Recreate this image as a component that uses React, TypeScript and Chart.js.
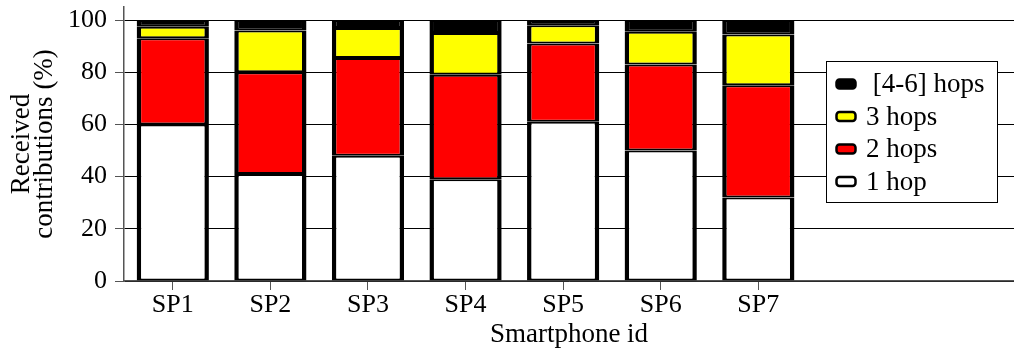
import React, { useEffect, useRef } from 'react';
import { Chart, registerables } from 'chart.js';

Chart.register(...registerables);

const categories = ['SP1', 'SP2', 'SP3', 'SP4', 'SP5', 'SP6', 'SP7'];
const hop1 = [60, 41, 48, 39, 61, 50, 32];
const hop2 = [33, 39, 37.5, 40, 30, 33, 43];
const hop3 = [4.4, 16, 11.5, 16, 7, 12.5, 19.5];
const hop46 = [2.6, 4, 3, 5, 2, 4.5, 5.5];
const yTicks = [0, 20, 40, 60, 80, 100];
const seriesLabels = ['1 hop', '2 hops', '3 hops', ' [4-6] hops'];
const seriesColors = ['#ffffff', '#ff0000', '#ffff00', '#000000'];
const xTitle = 'Smartphone id';
const yTitle = ['Received', 'contributions (%)'];

const FONT = "'Liberation Serif', 'Times New Roman', serif";

const boxLegend = {
  id: 'boxLegend',
  afterDatasetsDraw(chart: any, _args: any, opts: any) {
    const ctx = chart.ctx;
    const { x, y, w, h, rowStart, rowGap } = opts;
    ctx.save();
    ctx.fillStyle = '#ffffff';
    ctx.fillRect(x, y, w, h);
    ctx.strokeStyle = '#000000';
    ctx.lineWidth = 1;
    ctx.strokeRect(x + 0.5, y + 0.5, w, h);
    const ds = chart.data.datasets.slice().reverse();
    ds.forEach((d: any, i: number) => {
      const cy = y + rowStart + i * rowGap;
      ctx.beginPath();
      ctx.roundRect(x + 10.5, cy - 4.5, 19, 9, 3);
      ctx.fillStyle = d.backgroundColor;
      ctx.fill();
      ctx.lineWidth = 2.5;
      ctx.strokeStyle = '#000000';
      ctx.stroke();
      ctx.fillStyle = '#000000';
      ctx.font = `27px ${FONT}`;
      ctx.textBaseline = 'middle';
      ctx.textAlign = 'left';
      ctx.fillText(d.label, x + 40, cy + 1);
    });
    ctx.restore();
  },
};

export default function App() {
  const ref = useRef<HTMLCanvasElement | null>(null);

  useEffect(() => {
    if (!ref.current) return;
    const series = [hop1, hop2, hop3, hop46];
    const chart = new Chart(ref.current, {
      type: 'bar',
      data: {
        datasets: series.map((vals, k) => ({
          label: seriesLabels[k],
          data: categories.map((_, i) => ({ x: i, y: vals[i] })),
          backgroundColor: seriesColors[k],
          borderColor: '#000000',
          borderWidth: { top: 2, bottom: 2, left: 4.5, right: 4.5 },
          borderSkipped: false,
          inflateAmount: 0,
          categoryPercentage: 1,
          barPercentage: 0.74,
        })),
      },
      options: {
        animation: false,
        responsive: false,
        layout: { padding: { top: 7, right: 0, left: 0, bottom: 0 } },
        plugins: {
          legend: { display: false },
          tooltip: { enabled: false },
          boxLegend: { x: 826, y: 61, w: 171, h: 141, rowStart: 23, rowGap: 32.5 },
        } as any,
        scales: {
          x: {
            type: 'linear',
            min: -0.5,
            max: 8.62,
            stacked: true,
            offset: false,
            afterBuildTicks: (s: any) => {
              s.ticks = categories.map((_, i) => ({ value: i }));
            },
            afterFit: (s: any) => {
              s.height = 71;
              s.paddingLeft = 0;
              s.paddingRight = 0;
            },
            ticks: {
              callback: (v: any) => categories[v] ?? '',
              font: { family: FONT, size: 26 },
              color: '#000000',
              padding: 0,
              maxRotation: 0,
              autoSkip: false,
            },
            grid: { drawOnChartArea: false, drawTicks: true, tickLength: 9, color: '#555555', lineWidth: 1, offset: false },
            border: { display: true, color: '#555555', width: 1.5 },
            title: {
              display: true,
              text: xTitle,
              font: { family: FONT, size: 27 },
              color: '#000000',
              padding: { top: 0, bottom: 1 },
            },
          },
          y: {
            min: 0,
            max: 105,
            stacked: true,
            afterBuildTicks: (s: any) => {
              s.ticks = yTicks.map((v) => ({ value: v }));
            },
            afterFit: (s: any) => {
              s.width = 124;
              s.paddingTop = 0;
              s.paddingBottom = 0;
            },
            ticks: {
              font: { family: FONT, size: 26 },
              color: '#000000',
              padding: 8,
            },
            grid: { color: '#000000', lineWidth: 1, tickLength: 9, tickColor: '#555555', drawTicks: true },
            border: { display: true, color: '#555555', width: 1.5 },
            title: {
              display: true,
              text: yTitle,
              font: { family: FONT, size: 27, lineHeight: 0.85 },
              color: '#000000',
              padding: { top: 10, bottom: 0 },
            },
          },
        },
      } as any,
      plugins: [boxLegend as any],
    });
    return () => chart.destroy();
  }, []);

  return (
    <div style={{ position: 'absolute', left: 0, top: 0, width: 1014, height: 352 }}>
      <canvas ref={ref} width={1014} height={352} style={{ width: 1014, height: 352 }} />
    </div>
  );
}
